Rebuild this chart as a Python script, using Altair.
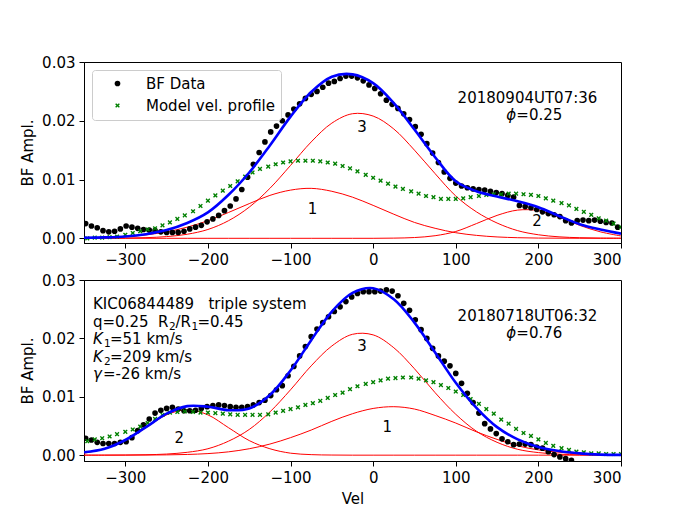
import altair as alt
import pandas as pd

FONT = "DejaVu Sans"
FS = 15
SUB = 10.5
XPATH = ("M-0.58,-1L0,-0.42L0.58,-1L1,-0.58L0.42,0L1,0.58L0.58,1L0,0.42"
         "L-0.58,1L-1,0.58L-0.42,0L-1,-0.58Z")

# ---------------- smooth components (velocity grid for the fitted curves)
v_curve = [-350, -325, -300, -275, -250, -225, -200, -175, -150, -125, -100, -75, -50, -25,
           0, 25, 50, 75, 100, 125, 150, 175, 200, 225, 250, 275, 300]

top_g1 = [0.00005, 0.00013, 0.00028, 0.00058, 0.0011, 0.0019, 0.0030, 0.0044, 0.0059, 0.0073,
          0.0082, 0.0085, 0.0080, 0.0070, 0.0056, 0.0041, 0.0027, 0.0017, 0.00095, 0.0005,
          0.00023, 0.0001, 0.00004, 0.00002, 0.00001, 0.0, 0.0]
top_g2 = [0.0, 0.0, 0.0, 0.0, 0.0, 0.0, 0.0, 0.0, 0.0, 0.0, 0.0, 0.0, 0.0, 0.0, 0.0,
          0.00003, 0.00013, 0.00044, 0.00116, 0.0025, 0.0039, 0.0048, 0.0047, 0.0036,
          0.0022, 0.0011, 0.0004]
top_g3 = [0.0, 0.00001, 0.00004, 0.00011, 0.00029, 0.00069, 0.0015, 0.0030, 0.0053, 0.0085,
          0.0124, 0.0164, 0.0196, 0.0212, 0.0208, 0.0186, 0.0150, 0.0110, 0.0072, 0.0045,
          0.0026, 0.0013, 0.0006, 0.00025, 0.0001, 0.00004, 0.00002]
top_fit = [0.0001, 0.00015, 0.0003, 0.0007, 0.0014, 0.0026, 0.0044, 0.0074, 0.0112, 0.0158,
           0.0207, 0.0249, 0.0275, 0.0279, 0.0264, 0.0230, 0.0185, 0.0138, 0.0097, 0.0080,
           0.0071, 0.0063, 0.0053, 0.0038, 0.0024, 0.0015, 0.0008]

bot_g1 = [0.0, 0.0, 0.00001, 0.00002, 0.00005, 0.00012, 0.00027, 0.00057, 0.0011, 0.0019,
          0.0030, 0.0043, 0.0058, 0.0071, 0.0080, 0.0083, 0.0079, 0.0068, 0.0055, 0.0040,
          0.0027, 0.0016, 0.0009, 0.0005, 0.00023, 0.0001, 0.00004]
bot_g2 = [0.00034, 0.0011, 0.0025, 0.0047, 0.0069, 0.0078, 0.0069, 0.0047, 0.0025, 0.0011,
          0.00034, 0.00009, 0.00002, 0.0, 0.0, 0.0, 0.0, 0.0, 0.0, 0.0, 0.0, 0.0, 0.0, 0.0,
          0.0, 0.0, 0.0]
bot_g3 = [0.0, 0.00001, 0.00002, 0.00007, 0.00019, 0.00049, 0.0011, 0.0024, 0.0044, 0.0074,
          0.0112, 0.0153, 0.0187, 0.0207, 0.0206, 0.0184, 0.0148, 0.0107, 0.0070, 0.0041,
          0.0022, 0.0010, 0.00044, 0.00017, 0.00006, 0.00002, 0.00001]
bot_fit = [0.0005, 0.0011, 0.0026, 0.0048, 0.0071, 0.0084, 0.0083, 0.0077, 0.0080, 0.0103,
           0.0145, 0.0197, 0.0246, 0.0278, 0.0286, 0.0267, 0.0227, 0.0176, 0.0124, 0.0081,
           0.0048, 0.0027, 0.0014, 0.0007, 0.0003, 0.0001, 0.00005]

# ---------------- broadening-function data (black dots)
bf_v = [-348, -341, -334, -327, -320, -313, -306, -299, -292, -285, -278, -271, -264, -257,
        -250, -243, -236, -229, -222, -215, -208, -201, -194, -187, -180, -173, -166, -159,
        -152, -145, -138, -131, -124, -117, -110, -103, -96, -89, -82, -75, -68, -61, -54,
        -47, -40, -33, -26, -19, -12, -5, 2, 9, 16, 23, 30, 37, 44, 51, 58, 65, 72, 79, 86,
        93, 100, 107, 114, 121, 128, 135, 142, 149, 156, 163, 170, 177, 184, 191, 198, 205,
        212, 219, 226, 233, 240, 247, 254, 261, 268, 275, 282, 289, 296]

top_bf = [0.0025, 0.0021, 0.0018, 0.0013, 0.0011, 0.0012, 0.0016, 0.0021, 0.0019, 0.0017,
          0.0015, 0.0014, 0.0013, 0.0011, 0.0010, 0.0010, 0.0010, 0.0012, 0.0016, 0.0019,
          0.0022, 0.0028, 0.0033, 0.0039, 0.0047, 0.0055, 0.0067, 0.0083, 0.0104, 0.0126,
          0.0146, 0.0164, 0.0181, 0.0191, 0.0200, 0.0210, 0.0220, 0.0229, 0.0238, 0.0245,
          0.0250, 0.0257, 0.0264, 0.0267, 0.0272, 0.0276, 0.0276, 0.0273, 0.0268, 0.0261,
          0.0255, 0.0246, 0.0235, 0.0228, 0.0221, 0.0212, 0.0202, 0.0190, 0.0177, 0.0161,
          0.0145, 0.0129, 0.0113, 0.0102, 0.0094, 0.0089, 0.0086, 0.0084, 0.0083, 0.0082,
          0.0080, 0.0078, 0.0076, 0.0073, 0.0070, 0.0056, 0.0054, 0.0052, 0.0049, 0.0045,
          0.0042, 0.0040, 0.0037, 0.0030, 0.0026, 0.0030, 0.0031, 0.0030, 0.0031, 0.0029,
          0.0027, 0.0026, 0.0019]

bot_bf = [0.0029, 0.0026, 0.0022, 0.0020, 0.0020, 0.0020, 0.0022, 0.0023, 0.0030, 0.0042,
          0.0052, 0.0062, 0.0072, 0.0077, 0.0080, 0.0082, 0.0079, 0.0076, 0.0076, 0.0077,
          0.0080, 0.0083, 0.0085, 0.0086, 0.0085, 0.0083, 0.0082, 0.0082, 0.0083, 0.0086,
          0.0090, 0.0094, 0.0102, 0.0112, 0.0119, 0.0136, 0.0152, 0.0170, 0.0186, 0.0203,
          0.0216, 0.0227, 0.0237, 0.0246, 0.0254, 0.0263, 0.0271, 0.0277, 0.0280, 0.0280,
          0.0280, 0.0281, 0.0283, 0.0281, 0.0273, 0.0260, 0.0248, 0.0232, 0.0215, 0.0200,
          0.0183, 0.0170, 0.0161, 0.0153, 0.0140, 0.0123, 0.0106, 0.0090, 0.0072, 0.0054,
          0.0045, 0.0037, 0.0028, 0.0023, 0.0018, 0.0019, 0.0019, 0.0018, 0.0014, 0.0012,
          0.0006, 0.0001, -0.0003, -0.0006, -0.0009]

# ---------------- model velocity profile (green crosses)
mod_v = [-346, -337, -328, -319, -310, -300, -291, -282, -273, -264, -255, -246, -237, -228,
         -218, -209, -200, -191, -182, -173, -164, -155, -146, -137, -127, -118, -109, -100,
         -91, -82, -73, -64, -55, -46, -37, -28, -19, -9, 0, 9, 18, 27, 36, 46, 55, 64, 73,
         82, 91, 100, 109, 118, 128, 137, 146, 155, 164, 173, 182, 191, 200, 209, 218, 228,
         237, 246, 255, 264, 273, 282, 291, 300]

top_mod = [0.0000, 0.0001, 0.0001, 0.0002, 0.0003, 0.0006, 0.0009, 0.0012, 0.0015, 0.0017,
           0.0022, 0.0027, 0.0033, 0.0039, 0.0046, 0.0055, 0.0064, 0.0073, 0.0081, 0.0089,
           0.0097, 0.0105, 0.0112, 0.0118, 0.0122, 0.0126, 0.0129, 0.0131, 0.0132, 0.0132,
           0.0132, 0.0131, 0.0129, 0.0127, 0.0123, 0.0119, 0.0114, 0.0108, 0.0103, 0.0098,
           0.0093, 0.0088, 0.0084, 0.0080, 0.0076, 0.0072, 0.0070, 0.0067, 0.0067, 0.0067,
           0.0068, 0.0070, 0.0072, 0.0074, 0.0075, 0.0075, 0.0076, 0.0076, 0.0075, 0.0074,
           0.0072, 0.0068, 0.0064, 0.0060, 0.0056, 0.0050, 0.0045, 0.0040, 0.0034, 0.0030,
           0.0025, 0.0019]

bot_mod = [0.0024, 0.0027, 0.0029, 0.0032, 0.0036, 0.0040, 0.0044, 0.0049, 0.0055, 0.0062,
           0.0069, 0.0073, 0.0074, 0.0075, 0.0074, 0.0073, 0.0073, 0.0072, 0.0071, 0.0070,
           0.0069, 0.0069, 0.0069, 0.0069, 0.0070, 0.0073, 0.0076, 0.0079, 0.0082, 0.0086,
           0.0089, 0.0093, 0.0098, 0.0103, 0.0107, 0.0113, 0.0118, 0.0122, 0.0125, 0.0128,
           0.0131, 0.0132, 0.0133, 0.0133, 0.0131, 0.0128, 0.0125, 0.0120, 0.0115, 0.0109,
           0.0103, 0.0096, 0.0088, 0.0079, 0.0071, 0.0061, 0.0054, 0.0045, 0.0038, 0.0033,
           0.0027, 0.0021, 0.0016, 0.0012, 0.0009, 0.0006, 0.0005, 0.0003, 0.0003, 0.0002,
           0.0002, 0.0002]

KINDS = ["BF Data", "Model vel. profile"]
X_TICKS = [-300, -200, -100, 0, 100, 200, 300]
Y_TICKS = [0.0, 0.01, 0.02, 0.03]


def make_panel(g1, g2, g3, fit, bf, mod, ydom, xtitle, show_legend, ann):
    curves = pd.DataFrame({"v": v_curve, "G1": g1, "G2": g2, "G3": g3, "fit": fit})
    pts = pd.concat([
        pd.DataFrame({"v": bf_v[:len(bf)], "a": bf, "kind": KINDS[0]}),
        pd.DataFrame({"v": mod_v, "a": mod, "kind": KINDS[1]}),
    ], ignore_index=True)

    xs = alt.Scale(domain=[-350, 300], nice=False, zero=False)
    ys = alt.Scale(domain=ydom, nice=False, zero=False)
    xax_kw = dict(values=X_TICKS, format="d", title=xtitle if xtitle else None)
    xax = alt.Axis(**xax_kw)
    yax = alt.Axis(values=Y_TICKS, format=".2f", title="BF Ampl.", titlePadding=6)

    def X(f):
        return alt.X(f, type="quantitative", scale=xs, axis=xax)

    def Y(f):
        return alt.Y(f, type="quantitative", scale=ys, axis=yax)

    reds = alt.Chart(curves).transform_fold(
        ["G1", "G2", "G3"], as_=["comp", "amp"]
    ).mark_line(color="red", strokeWidth=1, interpolate="catmull-rom", clip=True).encode(
        x=X("v"), y=Y("amp"), detail="comp:N"
    )
    blue = alt.Chart(curves).mark_line(
        color="blue", strokeWidth=2.6, interpolate="catmull-rom", clip=True
    ).encode(x=X("v"), y=Y("fit"))

    if show_legend:
        leg = alt.Legend(title=None, orient="top-left", offset=8, padding=6, symbolOffset=12,
                         labelOffset=21, rowPadding=6, fillColor="rgba(255,255,255,0.8)",
                         strokeColor="#cccccc", cornerRadius=3, labelFont=FONT,
                         labelFontSize=FS, labelColor="black", symbolStrokeWidth=0)
        cenc = alt.Color("kind:N", scale=alt.Scale(domain=KINDS, range=["black", "green"]), legend=leg)
        senc = alt.Shape("kind:N", scale=alt.Scale(domain=KINDS, range=["circle", XPATH]), legend=leg)
        zenc = alt.Size("kind:N", scale=alt.Scale(domain=KINDS, range=[32, 22]), legend=leg)
    else:
        cenc = alt.Color("kind:N", scale=alt.Scale(domain=KINDS, range=["black", "green"]), legend=None)
        senc = alt.Shape("kind:N", scale=alt.Scale(domain=KINDS, range=["circle", XPATH]), legend=None)
        zenc = alt.Size("kind:N", scale=alt.Scale(domain=KINDS, range=[32, 22]), legend=None)

    points = alt.Chart(pts).mark_point(filled=True, opacity=1, clip=True).encode(
        x=X("v"), y=Y("a"), color=cenc, shape=senc, size=zenc
    )

    layers = [reds, points, blue]
    for style, df in ann:
        props = dict(font=FONT, fontSize=FS, color="black")
        props.update(style)
        layers.append(
            alt.Chart(df).mark_text(**props).encode(x=X("v"), y=Y("y"), text="t:N")
        )
    return alt.layer(*layers).properties(width=537, height=181)


CENTER_MID = dict(align="center", baseline="middle")
CENTER_BASE = dict(align="center", baseline="alphabetic")


def piece(v, y, t, dx=0, italic=False, sub=False):
    st = dict(align="left", baseline="alphabetic")
    if dx:
        st["dx"] = dx
    if italic:
        st["fontStyle"] = "italic"
    if sub:
        st["fontSize"] = SUB
        st["dy"] = 3
    return (st, pd.DataFrame({"v": [v], "y": [y], "t": [t]}))


PHI_X = 161.2
TXT_X = -339.1

top_ann = [
    (CENTER_MID, pd.DataFrame({"v": [-13.4, -73.3, 198.4], "y": [0.0189, 0.0050, 0.00294],
                               "t": ["3", "1", "2"]})),
    (CENTER_BASE, pd.DataFrame({"v": [186.8], "y": [0.02302], "t": ["20180904UT07:36"]})),
    piece(PHI_X, 0.02018, "ϕ", italic=True),
    piece(PHI_X, 0.02018, "=0.25", dx=10),
]

bot_ann = [
    (CENTER_MID, pd.DataFrame({"v": [-13.4, 17.2, -234.6], "y": [0.01878, 0.00479, 0.0030],
                               "t": ["3", "1", "2"]})),
    (CENTER_BASE, pd.DataFrame({"v": [186.8], "y": [0.02293], "t": ["20180718UT06:32"]})),
    piece(PHI_X, 0.02007, "ϕ", italic=True),
    piece(PHI_X, 0.02007, "=0.76", dx=10),
    piece(TXT_X, 0.02498, "KIC06844489\u00a0\u00a0\u00a0triple system"),
    piece(TXT_X, 0.0220, "q=0.25\u00a0\u00a0R"),
    piece(TXT_X, 0.0220, "2", dx=76, sub=True),
    piece(TXT_X, 0.0220, "/R", dx=82.5),
    piece(TXT_X, 0.0220, "1", dx=98.5, sub=True),
    piece(TXT_X, 0.0220, "=0.45", dx=104.5),
    piece(TXT_X, 0.01904, "K", italic=True),
    piece(TXT_X, 0.01904, "1", dx=11, sub=True),
    piece(TXT_X, 0.01904, "=51 km/s", dx=17),
    piece(TXT_X, 0.01601, "K", italic=True),
    piece(TXT_X, 0.01601, "2", dx=11, sub=True),
    piece(TXT_X, 0.01601, "=209 km/s", dx=17),
    piece(TXT_X, 0.01305, "γ", italic=True),
    piece(TXT_X, 0.01305, "=-26 km/s", dx=10),
]

top = make_panel(top_g1, top_g2, top_g3, top_fit, top_bf, top_mod, [-0.0008, 0.03], "", True, top_ann)
bottom = make_panel(bot_g1, bot_g2, bot_g3, bot_fit, bot_bf, bot_mod, [-0.001, 0.03], "Vel", False, bot_ann)

chart = alt.vconcat(top, bottom, spacing=37, bounds="flush").resolve_scale(
    x="independent", y="independent", color="independent", shape="independent", size="independent"
).resolve_legend(color="independent", shape="independent", size="independent").properties(
    padding={"left": 12, "top": 46, "right": 5, "bottom": 5}
).configure(font=FONT).configure_view(stroke="black", strokeWidth=1).configure_axis(
    domainColor="black", domainWidth=1, tickColor="black", tickWidth=1, tickSize=5,
    labelPadding=4, labelFont=FONT, labelFontSize=FS, labelColor="black",
    titleFont=FONT, titleFontSize=FS, titleFontWeight="normal", titleColor="black",
    titlePadding=6, grid=False
)

chart.save("out.html", embed_options={"renderer": "svg", "actions": False})
